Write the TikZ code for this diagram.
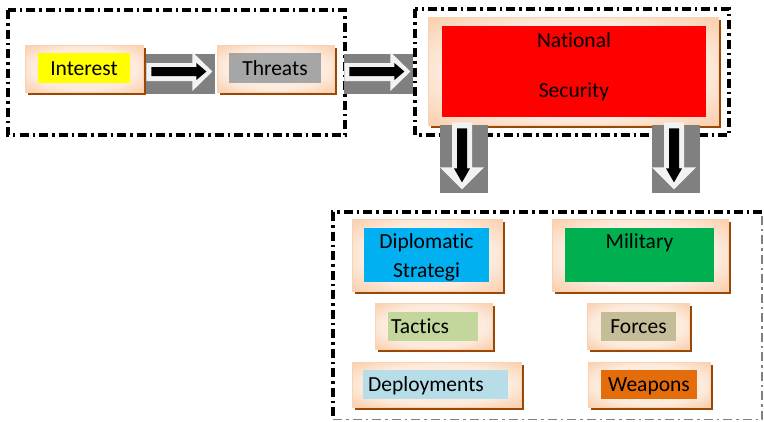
\documentclass[tikz,border=0pt]{standalone}
\usepackage{fontspec}
\setmainfont{Carlito}[Ligatures=NoCommon]
\usetikzlibrary{shadows,calc}

\definecolor{peach}{HTML}{F7BB8C}
\definecolor{peachlite}{HTML}{FDEBDD}
\definecolor{peachline}{HTML}{FAD2B2}
\definecolor{shadowbrown}{HTML}{984807}
\definecolor{arrgrey}{HTML}{808080}
\definecolor{arrlite}{HTML}{F2F2F2}
\definecolor{cyellow}{HTML}{FFFF00}
\definecolor{cgrey}{HTML}{A6A6A6}
\definecolor{cred}{HTML}{FF0000}
\definecolor{cblue}{HTML}{00B0F0}
\definecolor{cgreen}{HTML}{00B050}
\definecolor{ctactics}{HTML}{C3D69B}
\definecolor{cforces}{HTML}{C4BD97}
\definecolor{cdeploy}{HTML}{B7DDE8}
\definecolor{cweapons}{HTML}{E46C0A}

% soft glow: light around the centre, peach towards the edges
\pgfdeclareradialshading{frameglow}{\pgfpoint{0bp}{0bp}}{%
  color(0bp)=(peachlite); color(22bp)=(peachlite); color(44bp)=(peach); color(72bp)=(peach)}

\begin{document}
\begin{tikzpicture}[x=1pt, y=-1pt,
  frame/.style={rectangle, draw=peachline, line width=0.8pt, inner sep=0pt,
    shading=frameglow,
    drop shadow={shadow xshift=2.5pt, shadow yshift=-2.5pt, fill=shadowbrown, opacity=1}},
  panel/.style={rectangle, inner sep=0pt, draw=none},
  lbl/.style={inner sep=0pt, anchor=base, font=\fontsize{21.5}{24}\selectfont, text=black},
  groupbox/.style={line width=3.4pt, dash pattern=on 9pt off 4pt on 2.5pt off 4pt},
  rblock/.pic={
    \fill[arrgrey] (0,0) rectangle (69,40);
    \fill[arrlite] (0,9) -- (46,9) -- (46,-2) -- (66,17.5) -- (46,37) -- (46,27) -- (0,27) -- cycle;
    \fill[black] (5,13) -- (50,13) -- (50,9) -- (60,17.5) -- (50,26) -- (50,22) -- (5,22) -- cycle;
  },
  dblock/.pic={
    \fill[arrgrey] (0,0) rectangle (48,68);
    \fill[arrlite] (12,-3) -- (32,-3) -- (32,42) -- (44,42) -- (22,64) -- (0,42) -- (12,42) -- cycle;
    \fill[black] (17,3) -- (27,3) -- (27,43) -- (30,43) -- (22,57) -- (14,43) -- (17,43) -- cycle;
  }
]
\useasboundingbox (0,0) rectangle (764,421);
\fill[white] (0,0) rectangle (764,421);

% group outlines
\draw[groupbox] (8,10) rectangle (345,135);
\draw[groupbox] (415,9) rectangle (729,135);
\draw[groupbox] (762,212) -- (333,212) -- (333,419);
\draw[groupbox, draw=gray, line width=1.5pt] (333,419.5) -- (762,419.5) -- (762,212);

% first row: interest and threats
\node[frame, minimum width=118, minimum height=47] (intF) at (84,68.5) {};
\node[panel, fill=cyellow, minimum width=92, minimum height=30] (intP) at (84,68) {};
\node[lbl] (intT) at (84,75) {Interest};

\node[frame, minimum width=117, minimum height=47] (thrF) at (275.5,68.5) {};
\node[panel, fill=cgrey, minimum width=92, minimum height=30] (thrP) at (275,68) {};
\node[lbl] (thrT) at (275,75) {Threats};

% national security
\node[frame, minimum width=290, minimum height=108] (natF) at (573,71) {};
\node[panel, fill=cred, minimum width=264, minimum height=91] (natP) at (574,71.5) {};
\node[lbl] (natT1) at (574,47) {National};
\node[lbl] (natT2) at (574,97) {Security};

% instruments
\node[frame, minimum width=150, minimum height=72] (dipF) at (427,255) {};
\node[panel, fill=cblue, minimum width=125, minimum height=54] (dipP) at (426.5,255) {};
\node[lbl] (dipT1) at (426.5,248) {Diplomatic};
\node[lbl] (dipT2) at (426.5,277) {Strategi};

\node[frame, minimum width=176, minimum height=72] (milF) at (640,255) {};
\node[panel, fill=cgreen, minimum width=149, minimum height=54] (milP) at (639.5,255) {};
\node[lbl] (milT) at (639.5,248) {Military};

\node[frame, minimum width=117, minimum height=46] (tacF) at (433.5,326) {};
\node[panel, fill=ctactics, minimum width=90, minimum height=29] (tacP) at (433,326.5) {};
\node[lbl, anchor=base west] (tacT) at (391,333) {Tactics};

\node[frame, minimum width=102, minimum height=46] (forF) at (638,326) {};
\node[panel, fill=cforces, minimum width=75, minimum height=29] (forP) at (638.5,326.5) {};
\node[lbl] (forT) at (638.5,333) {Forces};

\node[frame, minimum width=169, minimum height=45] (depF) at (436.5,384.5) {};
\node[panel, fill=cdeploy, minimum width=145, minimum height=29] (depP) at (435.5,384.5) {};
\node[lbl, anchor=base west] (depT) at (368,391) {Deployments};

\node[frame, minimum width=122, minimum height=45] (weaF) at (649,384.5) {};
\node[panel, fill=cweapons, minimum width=96, minimum height=29] (weaP) at (649,384.5) {};
\node[lbl] (weaT) at (649,391) {Weapons};

% block arrows between the boxes
\pic at ($(intF.east)+(3,-14.5)$) {rblock};
\pic at ($(thrF.east)+(10,-14.5)$) {rblock};
\pic at ($(natF.south)+(-133,0)$) {dblock};
\pic at ($(natF.south)+(79,0)$) {dblock};
\end{tikzpicture}
\end{document}
